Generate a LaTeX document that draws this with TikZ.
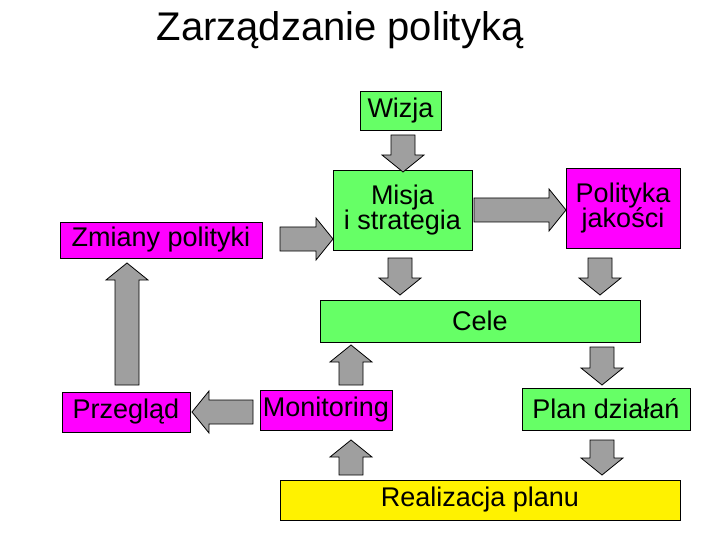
\documentclass[tikz,border=0pt]{standalone}
\usepackage{fontspec}
\setmainfont{Liberation Sans}
\newcommand\myarrow[4]{% x, y (tail centre), angle, length
  \begin{scope}[shift={(#1,#2)},rotate=#3]
    \draw[arrowfill] (0,-12)--({#4-17},-12)--({#4-17},-21)--(#4,0)--({#4-17},21)--({#4-17},12)--(0,12)--cycle;
  \end{scope}}
\begin{document}
\begin{tikzpicture}[x=1pt,y=-1pt,
  arrowfill/.style={fill=gray!75,draw=black,line width=0.8pt},
  box/.style={draw=black,line width=0.8pt,inner sep=0pt,font=\fontsize{27}{28}\selectfont,align=center},
  grn/.style={box,fill={rgb,255:red,102;green,255;blue,102}},
  mag/.style={box,fill={rgb,255:red,255;green,0;blue,255}},
  yel/.style={box,fill=yellow}]
\useasboundingbox (0,0) rectangle (720,540);
\node (title) at (340,30) {\fontsize{40}{44}\selectfont Zarządzanie polityką};
\node[grn,minimum width=81,minimum height=39] (wizja) at (400.5,110.5) {Wizja};
\node[grn,minimum width=139,minimum height=80] (misja) at (402.5,210) {Misja\\[-3pt]i strategia};
\node[mag,minimum width=114,minimum height=80] (pol) at (623,208) {Polityka\\[-3pt]jakości};
\node[mag,minimum width=202,minimum height=36] (zm) at (161,240) {Zmiany polityki};
\node[grn,minimum width=320,minimum height=42] (cele) at (480,321) {Cele};
\node[mag,minimum width=132,minimum height=40] (mon) at (326,410) {Monitoring};
\node[grn,minimum width=168,minimum height=42] (plan) at (606,409) {Plan działań};
\node[mag,minimum width=128,minimum height=40] (prz) at (126,412) {Przegląd};
\node[yel,minimum width=400,minimum height=40] (real) at (480,500) {Realizacja planu};
\myarrow{403}{135}{-90}{37}
\myarrow{474}{210}{0}{92}
\myarrow{280}{239}{0}{53}
\myarrow{400}{258}{-90}{37}
\myarrow{600}{258}{-90}{37}
\myarrow{351}{385}{90}{40}
\myarrow{602}{347}{-90}{38}
\myarrow{253}{412}{180}{61}
\myarrow{127}{385}{90}{122}
\myarrow{351}{475}{90}{35}
\myarrow{602}{440}{-90}{35}
\end{tikzpicture}
\end{document}
